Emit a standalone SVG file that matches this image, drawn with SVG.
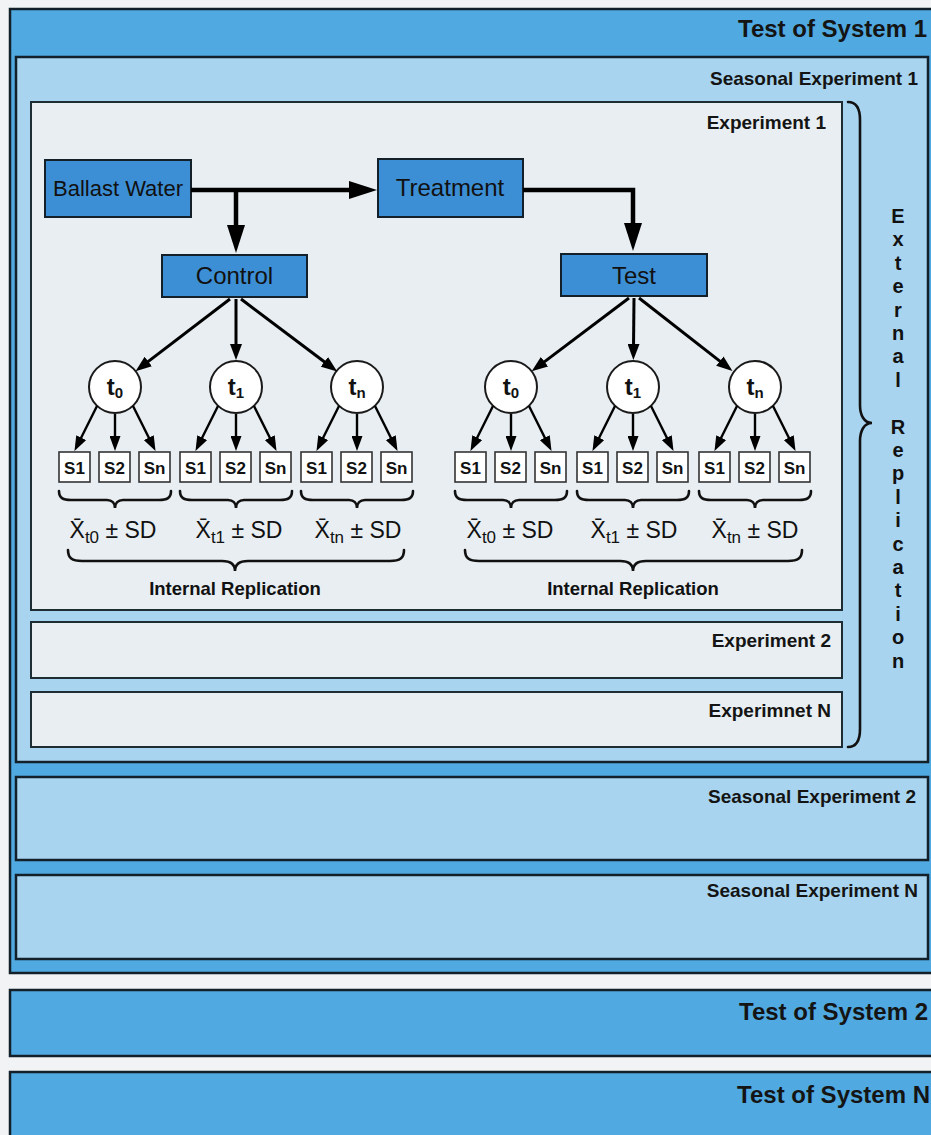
<svg xmlns="http://www.w3.org/2000/svg" width="931" height="1135" viewBox="0 0 931 1135">
<defs>
<style>
.bg{fill:#f2f3f4}
.sys{fill:#50a9e0;stroke:#13202a;stroke-width:2.5}
.sea{fill:#a8d4ef;stroke:#13202a;stroke-width:2.5}
.exp{fill:#e8eef2;stroke:#1e2c33;stroke-width:2}
.node{fill:#3d8fd5;stroke:#13202a;stroke-width:2}
.circ{fill:#ffffff;stroke:#1a1a1a;stroke-width:2}
.sbox{fill:#ffffff;stroke:#333333;stroke-width:1.6}
.lbl{font-family:"Liberation Sans",Arial,sans-serif;font-weight:bold;fill:#141414}
.sysl{font-size:24px;text-anchor:end}
.seal{font-size:19px;text-anchor:end}
.nt{font-family:"Liberation Sans",Arial,sans-serif;fill:#111;text-anchor:middle}
.tl{font-family:"Liberation Sans",Arial,sans-serif;font-weight:bold;font-size:24px;fill:#111;text-anchor:middle}
.sub{font-size:15px}
.st{font-family:"Liberation Sans",Arial,sans-serif;font-weight:bold;font-size:17px;fill:#111;text-anchor:middle}
.fm{font-family:"Liberation Sans",Arial,sans-serif;font-size:23px;fill:#111;text-anchor:middle}
.ir{font-family:"Liberation Sans",Arial,sans-serif;font-weight:bold;font-size:18.5px;fill:#111;text-anchor:middle}
.ext{font-family:"Liberation Sans",Arial,sans-serif;font-weight:bold;font-size:20px;fill:#111;text-anchor:middle}
.brace{fill:none;stroke:#111;stroke-width:2.6;stroke-linecap:round}
.big{fill:none;stroke:#000;stroke-width:4.5}
.thin{fill:none;stroke:#000;stroke-width:3}
.sm{fill:none;stroke:#000;stroke-width:2.4}
</style>
<marker id="ahB" markerUnits="userSpaceOnUse" markerWidth="28" markerHeight="18" refX="6" refY="9" orient="auto">
<path d="M0,0 L28,9 L0,18 z" fill="#000"/>
</marker>
<marker id="ahM" markerUnits="userSpaceOnUse" markerWidth="16" markerHeight="12" refX="4" refY="6" orient="auto">
<path d="M0,0 L16,6 L0,12 z" fill="#000"/>
</marker>
<marker id="ahS" markerUnits="userSpaceOnUse" markerWidth="15" markerHeight="11" refX="4" refY="5.5" orient="auto">
<path d="M0,0 L15,5.5 L0,11 z" fill="#000"/>
</marker>
</defs>

<rect class="bg" x="0" y="0" width="931" height="1135"/>

<g id="test-of-system-1">
<rect class="sys" x="10" y="9" width="930" height="964"/>
<text class="lbl sysl" x="927" y="37">Test of System 1</text>
</g>

<g id="seasonal-experiment-1">
<rect class="sea" x="16" y="57" width="912" height="705"/>
<text class="lbl seal" x="918" y="85">Seasonal Experiment 1</text>
</g>

<g id="experiment-1">
<rect class="exp" x="31" y="102" width="811" height="508"/>
<text class="lbl seal" x="826" y="129">Experiment 1</text>
</g>

<g id="experiment-2">
<rect class="exp" x="31" y="622" width="811" height="56"/>
<text class="lbl seal" x="831" y="647">Experiment 2</text>
</g>

<g id="experiment-n">
<rect class="exp" x="31" y="692" width="811" height="55"/>
<text class="lbl seal" x="831" y="717">Experimnet N</text>
</g>

<g id="external-replication">
<path class="brace" d="M848,102 C856,102 860,108 860,120 L860,405 C860,415 864,423 872,423 C864,423 860,431 860,441 L860,729 C860,741 856,747 848,747"/>
<text class="ext" x="898 898 898 898 898 898 898 898 898 898 898 898 898 898 898 898 898 898 898 898" y="223 246.4 269.8 293.2 316.6 340 363.4 386.8 410.2 433.6 457 480.4 503.8 527.2 550.6 574 597.4 620.8 644.2 667.6">External Replication</text>
</g>

<g id="seasonal-experiment-2">
<rect class="sea" x="16" y="777" width="912" height="83"/>
<text class="lbl seal" x="916" y="803">Seasonal Experiment 2</text>
</g>

<g id="seasonal-experiment-n">
<rect class="sea" x="16" y="875" width="912" height="84"/>
<text class="lbl seal" x="918" y="897">Seasonal Experiment N</text>
</g>

<g id="test-of-system-2">
<rect class="sys" x="10" y="990" width="930" height="66"/>
<text class="lbl sysl" x="928" y="1020">Test of System 2</text>
</g>

<g id="test-of-system-n">
<rect class="sys" x="10" y="1072" width="930" height="80"/>
<text class="lbl sysl" x="930" y="1103">Test of System N</text>
</g>

<g id="ballast-water">
<rect class="node" x="45" y="160" width="146" height="57"/>
<text class="nt" x="118" y="196" font-size="22">Ballast Water</text>
</g>
<g id="treatment">
<rect class="node" x="378" y="159" width="145" height="58"/>
<text class="nt" x="450" y="196" font-size="24">Treatment</text>
</g>
<g id="control">
<rect class="node" x="162" y="255" width="145" height="42"/>
<text class="nt" x="234.5" y="284" font-size="24">Control</text>
</g>
<g id="test">
<rect class="node" x="561" y="254" width="146" height="42"/>
<text class="nt" x="634" y="284" font-size="24">Test</text>
</g>

<!-- control side time points -->
<g id="control-t0">
<circle class="circ" cx="115" cy="387" r="26"/>
<text class="tl" x="115" y="395">t<tspan class="sub" dy="3">0</tspan></text>
</g>
<g id="control-t1">
<circle class="circ" cx="236" cy="387" r="26"/>
<text class="tl" x="236" y="395">t<tspan class="sub" dy="3">1</tspan></text>
</g>
<g id="control-tn">
<circle class="circ" cx="357" cy="387" r="26"/>
<text class="tl" x="357" y="395">t<tspan class="sub" dy="3">n</tspan></text>
</g>
<g id="test-t0">
<circle class="circ" cx="511" cy="387" r="26"/>
<text class="tl" x="511" y="395">t<tspan class="sub" dy="3">0</tspan></text>
</g>
<g id="test-t1">
<circle class="circ" cx="633" cy="387" r="26"/>
<text class="tl" x="633" y="395">t<tspan class="sub" dy="3">1</tspan></text>
</g>
<g id="test-tn">
<circle class="circ" cx="755" cy="387" r="26"/>
<text class="tl" x="755" y="395">t<tspan class="sub" dy="3">n</tspan></text>
</g>

<!-- samples -->
<g id="control-t0-samples">
<rect class="sbox" x="59" y="452" width="31" height="30"/><text class="st" x="74.5" y="474">S1</text>
<rect class="sbox" x="99" y="452" width="31" height="30"/><text class="st" x="114.5" y="474">S2</text>
<rect class="sbox" x="139" y="452" width="31" height="30"/><text class="st" x="154.5" y="474">Sn</text>
</g>
<g id="control-t1-samples">
<rect class="sbox" x="180" y="452" width="31" height="30"/><text class="st" x="195.5" y="474">S1</text>
<rect class="sbox" x="220" y="452" width="31" height="30"/><text class="st" x="235.5" y="474">S2</text>
<rect class="sbox" x="260" y="452" width="31" height="30"/><text class="st" x="275.5" y="474">Sn</text>
</g>
<g id="control-tn-samples">
<rect class="sbox" x="301" y="452" width="31" height="30"/><text class="st" x="316.5" y="474">S1</text>
<rect class="sbox" x="341" y="452" width="31" height="30"/><text class="st" x="356.5" y="474">S2</text>
<rect class="sbox" x="381" y="452" width="31" height="30"/><text class="st" x="396.5" y="474">Sn</text>
</g>
<g id="test-t0-samples">
<rect class="sbox" x="455" y="452" width="31" height="30"/><text class="st" x="470.5" y="474">S1</text>
<rect class="sbox" x="495" y="452" width="31" height="30"/><text class="st" x="510.5" y="474">S2</text>
<rect class="sbox" x="535" y="452" width="31" height="30"/><text class="st" x="550.5" y="474">Sn</text>
</g>
<g id="test-t1-samples">
<rect class="sbox" x="577" y="452" width="31" height="30"/><text class="st" x="592.5" y="474">S1</text>
<rect class="sbox" x="617" y="452" width="31" height="30"/><text class="st" x="632.5" y="474">S2</text>
<rect class="sbox" x="657" y="452" width="31" height="30"/><text class="st" x="672.5" y="474">Sn</text>
</g>
<g id="test-tn-samples">
<rect class="sbox" x="699" y="452" width="31" height="30"/><text class="st" x="714.5" y="474">S1</text>
<rect class="sbox" x="739" y="452" width="31" height="30"/><text class="st" x="754.5" y="474">S2</text>
<rect class="sbox" x="779" y="452" width="31" height="30"/><text class="st" x="794.5" y="474">Sn</text>
</g>

<!-- means -->
<g id="means">
<path class="brace" d="M59,491 C59,498 63,500 71,500 L107,500 C112,500 115,503 115,508 C115,503 118,500 123,500 L159,500 C167,500 171,498 171,491"/>
<path class="brace" d="M180,491 C180,498 184,500 192,500 L228,500 C233,500 236,503 236,508 C236,503 239,500 244,500 L280,500 C288,500 292,498 292,491"/>
<path class="brace" d="M301,491 C301,498 305,500 313,500 L349,500 C354,500 357,503 357,508 C357,503 360,500 365,500 L401,500 C409,500 413,498 413,491"/>
<path class="brace" d="M455,491 C455,498 459,500 467,500 L503,500 C508,500 511,503 511,508 C511,503 514,500 519,500 L555,500 C563,500 567,498 567,491"/>
<path class="brace" d="M577,491 C577,498 581,500 589,500 L625,500 C630,500 633,503 633,508 C633,503 636,500 641,500 L677,500 C685,500 689,498 689,491"/>
<path class="brace" d="M699,491 C699,498 703,500 711,500 L747,500 C752,500 755,503 755,508 C755,503 758,500 763,500 L799,500 C807,500 811,498 811,491"/>
<text class="fm" x="113" y="538">X&#x0304;<tspan font-size="17" dy="5">t0</tspan><tspan dy="-5"> ± SD</tspan></text>
<text class="fm" x="239" y="538">X&#x0304;<tspan font-size="17" dy="5">t1</tspan><tspan dy="-5"> ± SD</tspan></text>
<text class="fm" x="358" y="538">X&#x0304;<tspan font-size="17" dy="5">tn</tspan><tspan dy="-5"> ± SD</tspan></text>
<text class="fm" x="510" y="538">X&#x0304;<tspan font-size="17" dy="5">t0</tspan><tspan dy="-5"> ± SD</tspan></text>
<text class="fm" x="634" y="538">X&#x0304;<tspan font-size="17" dy="5">t1</tspan><tspan dy="-5"> ± SD</tspan></text>
<text class="fm" x="755" y="538">X&#x0304;<tspan font-size="17" dy="5">tn</tspan><tspan dy="-5"> ± SD</tspan></text>
</g>

<g id="internal-replication">
<path class="brace" d="M68,550 C68,558 72,561 82,561 L222,561 C230,561 235,564 235,571 C235,564 240,561 248,561 L390,561 C400,561 404,558 404,550"/>
<path class="brace" d="M465,550 C465,558 469,561 479,561 L620,561 C628,561 633,564 633,571 C633,564 638,561 646,561 L788,561 C798,561 802,558 802,550"/>
<text class="ir" x="235" y="595">Internal Replication</text>
<text class="ir" x="633" y="595">Internal Replication</text>
</g>

<g id="connectors">
<path class="big" d="M191,190 L355,190" marker-end="url(#ahB)"/>
<path class="big" d="M236,190 L236,231" marker-end="url(#ahB)"/>
<path class="big" d="M523,190 L633,190 L633,229" marker-end="url(#ahB)"/>

<path class="thin" d="M230,299 L145.1,363.9" marker-end="url(#ahM)"/>
<path class="thin" d="M236,299 L236,348" marker-end="url(#ahM)"/>
<path class="thin" d="M241,299 L327.6,364.2" marker-end="url(#ahM)"/>
<path class="thin" d="M629,298 L541.3,364.1" marker-end="url(#ahM)"/>
<path class="thin" d="M634,298 L633.5,348" marker-end="url(#ahM)"/>
<path class="thin" d="M639,298 L723,363.6" marker-end="url(#ahM)"/>

<path class="sm" d="M97,406 L79.4,441.2" marker-end="url(#ahS)"/>
<path class="sm" d="M115,414 L115,440" marker-end="url(#ahS)"/>
<path class="sm" d="M133,406 L150.6,441.2" marker-end="url(#ahS)"/>
<path class="sm" d="M218,406 L200.4,441.2" marker-end="url(#ahS)"/>
<path class="sm" d="M236,414 L236,440" marker-end="url(#ahS)"/>
<path class="sm" d="M254,406 L271.6,441.2" marker-end="url(#ahS)"/>
<path class="sm" d="M339,406 L321.4,441.2" marker-end="url(#ahS)"/>
<path class="sm" d="M357,414 L357,440" marker-end="url(#ahS)"/>
<path class="sm" d="M375,406 L392.6,441.2" marker-end="url(#ahS)"/>
<path class="sm" d="M493,406 L475.4,441.2" marker-end="url(#ahS)"/>
<path class="sm" d="M511,414 L511,440" marker-end="url(#ahS)"/>
<path class="sm" d="M529,406 L546.6,441.2" marker-end="url(#ahS)"/>
<path class="sm" d="M615,406 L597.4,441.2" marker-end="url(#ahS)"/>
<path class="sm" d="M633,414 L633,440" marker-end="url(#ahS)"/>
<path class="sm" d="M651,406 L668.6,441.2" marker-end="url(#ahS)"/>
<path class="sm" d="M737,406 L719.4,441.2" marker-end="url(#ahS)"/>
<path class="sm" d="M755,414 L755,440" marker-end="url(#ahS)"/>
<path class="sm" d="M773,406 L790.6,441.2" marker-end="url(#ahS)"/>
</g>
</svg>
